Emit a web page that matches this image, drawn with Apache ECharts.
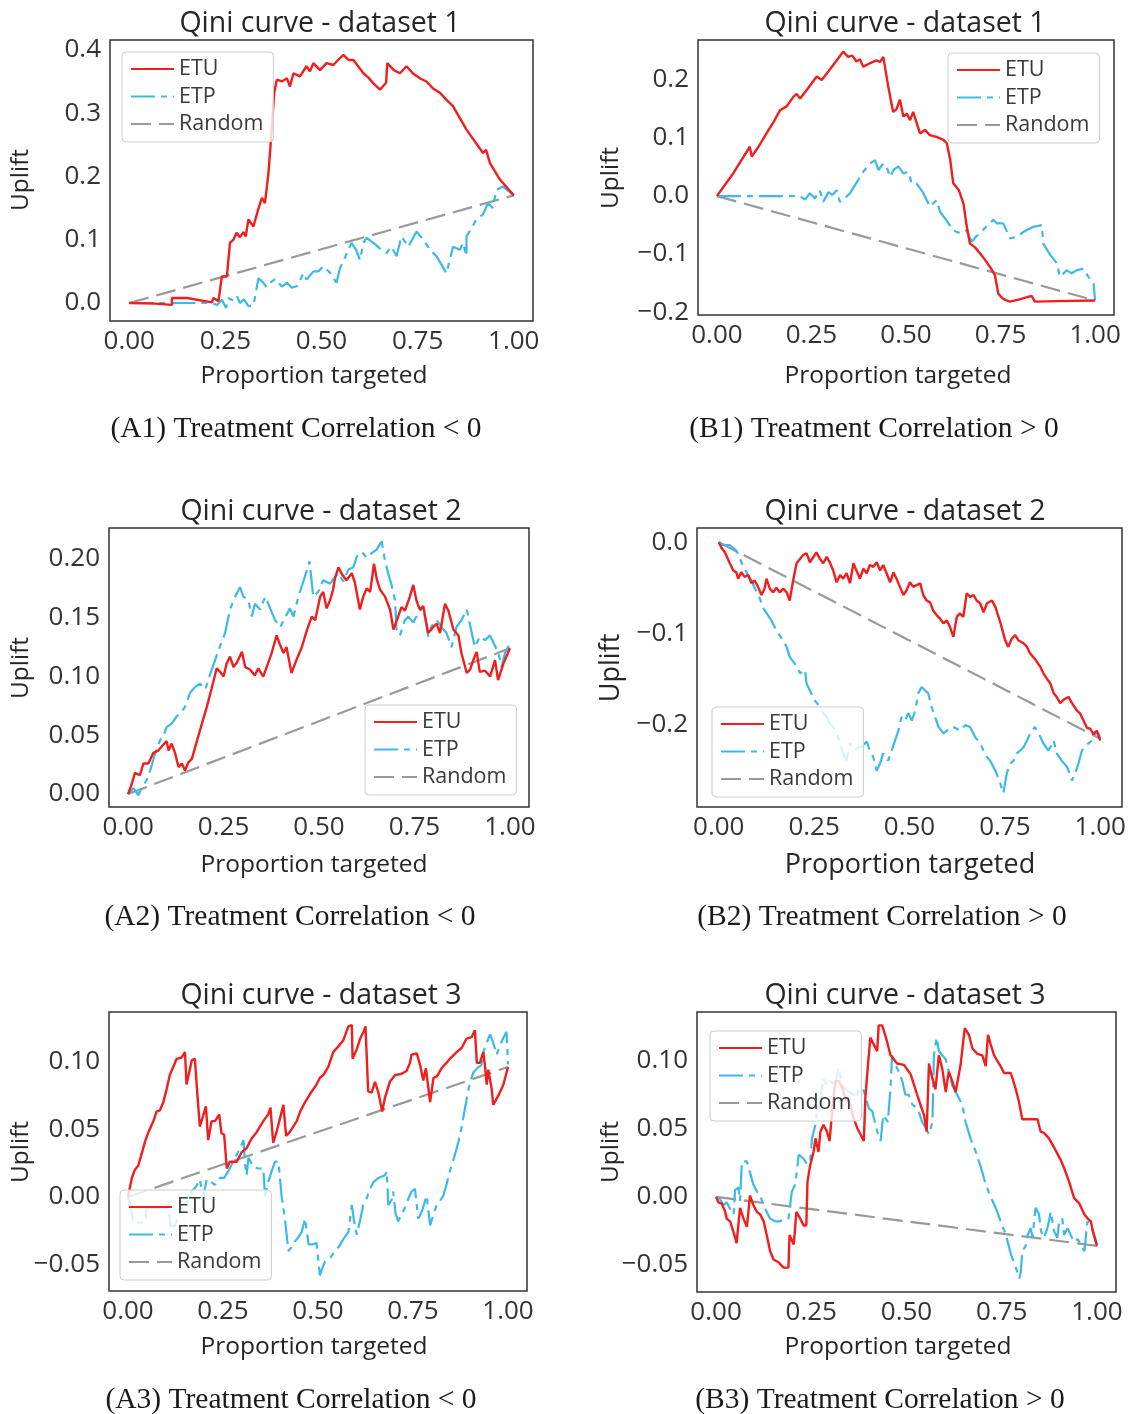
<!DOCTYPE html>
<html>
<head>
<meta charset="utf-8">
<script src="https://cdn.jsdelivr.net/npm/echarts@6/dist/echarts.min.js"></script>
<style>
html,body{margin:0;padding:0;background:#fff;}
#chart{width:1131px;height:1414px;}
</style>
</head>
<body>
<div id="chart"></div>
<script>
// ---------------- data ----------------
const seriesNames = ['ETU', 'ETP', 'Random'];
const xTicks = [0, 0.25, 0.5, 0.75, 1.0];
const yTicksA1 = [0, 0.1, 0.2, 0.3, 0.4];
const yTicksB1 = [-0.2, -0.1, 0, 0.1, 0.2];
const yTicksA2 = [0, 0.05, 0.10, 0.15, 0.20];
const yTicksB2 = [-0.2, -0.1, 0];
const yTicksA3 = [-0.05, 0, 0.05, 0.10];
const yTicksB3 = [-0.05, 0, 0.05, 0.10];
const panelTitles = ['Qini curve - dataset 1', 'Qini curve - dataset 1', 'Qini curve - dataset 2', 'Qini curve - dataset 2', 'Qini curve - dataset 3', 'Qini curve - dataset 3'];
const captions = ['(A1) Treatment Correlation < 0', '(B1) Treatment Correlation > 0', '(A2) Treatment Correlation < 0', '(B2) Treatment Correlation > 0', '(A3) Treatment Correlation < 0', '(B3) Treatment Correlation > 0'];

const a1ETU = [[0,0],[0.068,-0.001],[0.111,-0.003],[0.111,0.008],[0.150,0.008],[0.215,0.001],[0.219,0.008],[0.232,0.003],[0.241,0.042],[0.254,0.042],[0.262,0.095],[0.271,0.100],[0.279,0.111],[0.288,0.104],[0.297,0.112],[0.303,0.105],[0.310,0.132],[0.323,0.121],[0.334,0.145],[0.345,0.166],[0.353,0.158],[0.362,0.205],[0.368,0.253],[0.377,0.332],[0.384,0.353],[0.397,0.350],[0.410,0.355],[0.418,0.342],[0.427,0.363],[0.444,0.358],[0.461,0.374],[0.470,0.366],[0.479,0.379],[0.496,0.368],[0.513,0.379],[0.531,0.376],[0.548,0.387],[0.557,0.392],[0.570,0.384],[0.583,0.384],[0.609,0.363],[0.622,0.356],[0.635,0.347],[0.652,0.337],[0.668,0.348],[0.671,0.379],[0.688,0.368],[0.704,0.363],[0.721,0.374],[0.739,0.362],[0.756,0.355],[0.773,0.350],[0.790,0.339],[0.808,0.332],[0.825,0.321],[0.842,0.311],[0.877,0.274],[0.920,0.237],[0.928,0.242],[0.938,0.221],[0.964,0.195],[1.0,0.170]];
const a1ETP = [[0,0],[0.215,0],[0.228,-0.003],[0.241,0.005],[0.252,-0.008],[0.258,0.008],[0.270,0.004],[0.280,0.011],[0.288,0],[0.298,0.006],[0.310,-0.005],[0.323,-0.004],[0.336,0.039],[0.349,0.032],[0.357,0.025],[0.366,0.032],[0.380,0.038],[0.397,0.026],[0.410,0.032],[0.423,0.024],[0.437,0.027],[0.453,0.047],[0.461,0.037],[0.479,0.050],[0.492,0.050],[0.505,0.058],[0.522,0.048],[0.539,0.032],[0.548,0.055],[0.570,0.084],[0.578,0.095],[0.590,0.084],[0.600,0.068],[0.609,0.095],[0.617,0.103],[0.635,0.095],[0.656,0.084],[0.669,0.079],[0.682,0.089],[0.695,0.074],[0.708,0.105],[0.726,0.089],[0.747,0.113],[0.765,0.100],[0.782,0.084],[0.799,0.074],[0.825,0.047],[0.842,0.089],[0.860,0.084],[0.868,0.095],[0.877,0.074],[0.877,0.105],[0.903,0.132],[0.920,0.140],[0.933,0.158],[0.945,0.150],[0.955,0.179],[0.972,0.184],[1.0,0.170]];
const a1Random = [[0,0],[1,0.170]];

const b1ETU = [[0,0],[0.043,0.039],[0.087,0.085],[0.092,0.068],[0.110,0.085],[0.131,0.108],[0.150,0.128],[0.167,0.148],[0.185,0.155],[0.202,0.171],[0.211,0.176],[0.220,0.168],[0.240,0.185],[0.264,0.206],[0.277,0.200],[0.290,0.211],[0.317,0.234],[0.334,0.249],[0.347,0.240],[0.358,0.242],[0.369,0.232],[0.378,0.236],[0.387,0.223],[0.405,0.229],[0.422,0.234],[0.431,0.231],[0.440,0.240],[0.444,0.237],[0.453,0.189],[0.466,0.145],[0.475,0.150],[0.484,0.166],[0.493,0.137],[0.502,0.142],[0.511,0.131],[0.519,0.145],[0.537,0.108],[0.550,0.114],[0.563,0.105],[0.581,0.102],[0.599,0.097],[0.608,0.091],[0.617,0.062],[0.625,0.022],[0.640,0.010],[0.652,-0.013],[0.660,-0.050],[0.669,-0.082],[0.682,-0.088],[0.696,-0.099],[0.709,-0.110],[0.722,-0.122],[0.735,-0.136],[0.744,-0.168],[0.753,-0.175],[0.762,-0.179],[0.775,-0.182],[0.800,-0.178],[0.832,-0.172],[0.841,-0.182],[0.900,-0.181],[1.0,-0.180]];
const b1ETP = [[0,0],[0.220,0],[0.233,-0.006],[0.246,0.005],[0.259,-0.004],[0.272,0.010],[0.281,-0.010],[0.295,0.007],[0.305,0.002],[0.317,0.010],[0.325,-0.010],[0.338,-0.004],[0.352,0.005],[0.370,0.024],[0.387,0.042],[0.405,0.056],[0.418,0.062],[0.427,0.045],[0.440,0.056],[0.449,0.050],[0.458,0.033],[0.467,0.045],[0.480,0.051],[0.493,0.039],[0.506,0.042],[0.515,0.022],[0.528,0.022],[0.546,0.005],[0.563,-0.018],[0.581,-0.007],[0.590,-0.027],[0.607,-0.042],[0.625,-0.059],[0.643,-0.064],[0.660,-0.059],[0.674,-0.079],[0.685,-0.070],[0.696,-0.064],[0.713,-0.052],[0.731,-0.041],[0.740,-0.047],[0.757,-0.047],[0.775,-0.073],[0.793,-0.070],[0.810,-0.062],[0.837,-0.053],[0.859,-0.050],[0.863,-0.082],[0.880,-0.100],[0.899,-0.116],[0.907,-0.139],[0.925,-0.128],[0.938,-0.133],[0.951,-0.128],[0.969,-0.125],[0.982,-0.139],[0.996,-0.151],[1.0,-0.180]];
const b1Random = [[0,0],[1,-0.180]];

const a2ETU = [[0,0],[0.010,0.009],[0.018,0.018],[0.031,0.016],[0.040,0.026],[0.053,0.026],[0.066,0.035],[0.079,0.037],[0.092,0.042],[0.101,0.045],[0.106,0.037],[0.114,0.043],[0.123,0.035],[0.132,0.023],[0.141,0.026],[0.149,0.020],[0.158,0.027],[0.167,0.030],[0.188,0.054],[0.206,0.074],[0.219,0.090],[0.232,0.107],[0.241,0.104],[0.250,0.100],[0.258,0.111],[0.267,0.117],[0.276,0.108],[0.285,0.112],[0.298,0.121],[0.307,0.108],[0.319,0.106],[0.332,0.101],[0.341,0.107],[0.354,0.100],[0.365,0.110],[0.376,0.120],[0.389,0.135],[0.398,0.127],[0.407,0.120],[0.415,0.125],[0.428,0.103],[0.442,0.115],[0.455,0.125],[0.468,0.139],[0.481,0.151],[0.490,0.148],[0.503,0.168],[0.511,0.172],[0.520,0.158],[0.529,0.165],[0.537,0.174],[0.542,0.184],[0.551,0.193],[0.560,0.187],[0.572,0.182],[0.586,0.188],[0.594,0.180],[0.607,0.157],[0.616,0.168],[0.625,0.175],[0.634,0.172],[0.644,0.196],[0.652,0.182],[0.660,0.174],[0.673,0.168],[0.686,0.157],[0.695,0.140],[0.704,0.148],[0.716,0.159],[0.725,0.156],[0.738,0.168],[0.747,0.178],[0.755,0.165],[0.764,0.157],[0.773,0.160],[0.786,0.137],[0.799,0.142],[0.808,0.145],[0.817,0.137],[0.830,0.162],[0.839,0.156],[0.852,0.140],[0.865,0.135],[0.873,0.120],[0.887,0.103],[0.896,0.106],[0.904,0.114],[0.913,0.121],[0.921,0.104],[0.935,0.105],[0.948,0.100],[0.961,0.114],[0.969,0.097],[0.983,0.111],[1.0,0.124]];
const a2ETP = [[0,0],[0.014,0.005],[0.027,-0.001],[0.036,0.006],[0.049,0.012],[0.058,0.020],[0.071,0.035],[0.084,0.046],[0.092,0.049],[0.101,0.057],[0.114,0.060],[0.127,0.066],[0.136,0.069],[0.149,0.074],[0.162,0.086],[0.175,0.091],[0.188,0.094],[0.202,0.089],[0.215,0.102],[0.228,0.114],[0.241,0.126],[0.254,0.137],[0.267,0.157],[0.276,0.165],[0.293,0.176],[0.302,0.168],[0.315,0.165],[0.324,0.151],[0.332,0.162],[0.346,0.157],[0.359,0.168],[0.372,0.158],[0.385,0.148],[0.398,0.142],[0.411,0.150],[0.424,0.158],[0.433,0.151],[0.446,0.168],[0.463,0.185],[0.475,0.198],[0.485,0.168],[0.498,0.172],[0.511,0.182],[0.529,0.179],[0.538,0.183],[0.551,0.188],[0.564,0.181],[0.577,0.191],[0.590,0.193],[0.599,0.202],[0.612,0.206],[0.625,0.201],[0.638,0.205],[0.651,0.208],[0.664,0.215],[0.672,0.200],[0.681,0.188],[0.690,0.178],[0.699,0.165],[0.703,0.140],[0.712,0.135],[0.725,0.148],[0.734,0.151],[0.747,0.146],[0.760,0.154],[0.773,0.159],[0.786,0.134],[0.795,0.143],[0.808,0.148],[0.821,0.142],[0.834,0.137],[0.847,0.125],[0.860,0.142],[0.873,0.148],[0.887,0.157],[0.895,0.145],[0.908,0.125],[0.921,0.134],[0.935,0.131],[0.948,0.135],[0.961,0.126],[0.969,0.121],[0.978,0.108],[0.987,0.120],[1.0,0.128]];
const a2Random = [[0,0],[1,0.124]];

const b2ETU = [[0,0],[0.007,-0.006],[0.016,-0.011],[0.029,-0.023],[0.038,-0.031],[0.046,-0.033],[0.051,-0.040],[0.059,-0.033],[0.068,-0.038],[0.077,-0.036],[0.086,-0.045],[0.094,-0.042],[0.103,-0.049],[0.112,-0.058],[0.120,-0.051],[0.125,-0.040],[0.134,-0.051],[0.143,-0.055],[0.151,-0.050],[0.160,-0.055],[0.169,-0.051],[0.178,-0.055],[0.186,-0.064],[0.195,-0.042],[0.204,-0.023],[0.212,-0.019],[0.221,-0.014],[0.230,-0.012],[0.239,-0.022],[0.247,-0.017],[0.256,-0.011],[0.265,-0.018],[0.274,-0.023],[0.283,-0.016],[0.291,-0.022],[0.300,-0.031],[0.309,-0.044],[0.318,-0.036],[0.326,-0.040],[0.335,-0.034],[0.344,-0.045],[0.353,-0.023],[0.361,-0.031],[0.370,-0.040],[0.379,-0.029],[0.388,-0.034],[0.396,-0.025],[0.405,-0.027],[0.414,-0.022],[0.423,-0.031],[0.431,-0.025],[0.440,-0.034],[0.449,-0.044],[0.458,-0.033],[0.466,-0.040],[0.475,-0.049],[0.484,-0.058],[0.492,-0.053],[0.501,-0.044],[0.510,-0.049],[0.528,-0.045],[0.536,-0.058],[0.545,-0.064],[0.554,-0.066],[0.562,-0.075],[0.571,-0.080],[0.580,-0.084],[0.589,-0.089],[0.598,-0.086],[0.606,-0.093],[0.615,-0.104],[0.624,-0.082],[0.632,-0.078],[0.641,-0.082],[0.650,-0.056],[0.659,-0.060],[0.668,-0.058],[0.676,-0.064],[0.685,-0.067],[0.694,-0.077],[0.703,-0.067],[0.716,-0.064],[0.725,-0.071],[0.738,-0.088],[0.751,-0.108],[0.759,-0.115],[0.768,-0.106],[0.777,-0.102],[0.786,-0.108],[0.799,-0.111],[0.808,-0.115],[0.816,-0.122],[0.830,-0.129],[0.843,-0.137],[0.851,-0.144],[0.860,-0.150],[0.869,-0.155],[0.878,-0.166],[0.886,-0.170],[0.895,-0.177],[0.904,-0.173],[0.917,-0.170],[0.926,-0.177],[0.939,-0.185],[0.947,-0.188],[0.956,-0.196],[0.965,-0.204],[0.974,-0.205],[0.982,-0.211],[0.991,-0.207],[1.0,-0.218]];
const b2ETP = [[0,0],[0.011,-0.003],[0.029,-0.003],[0.046,-0.009],[0.055,-0.017],[0.064,-0.027],[0.077,-0.036],[0.086,-0.042],[0.094,-0.050],[0.108,-0.062],[0.116,-0.072],[0.129,-0.080],[0.138,-0.086],[0.151,-0.097],[0.164,-0.105],[0.178,-0.115],[0.186,-0.126],[0.204,-0.136],[0.213,-0.144],[0.226,-0.140],[0.230,-0.155],[0.239,-0.163],[0.252,-0.174],[0.265,-0.181],[0.274,-0.188],[0.283,-0.192],[0.291,-0.199],[0.300,-0.203],[0.313,-0.214],[0.326,-0.232],[0.335,-0.240],[0.344,-0.221],[0.357,-0.229],[0.366,-0.225],[0.374,-0.225],[0.388,-0.219],[0.396,-0.229],[0.405,-0.236],[0.414,-0.251],[0.423,-0.243],[0.431,-0.232],[0.444,-0.240],[0.453,-0.229],[0.462,-0.218],[0.471,-0.207],[0.479,-0.192],[0.488,-0.196],[0.497,-0.188],[0.506,-0.196],[0.515,-0.185],[0.523,-0.166],[0.532,-0.159],[0.541,-0.163],[0.549,-0.166],[0.558,-0.181],[0.567,-0.192],[0.576,-0.203],[0.589,-0.210],[0.598,-0.207],[0.615,-0.203],[0.633,-0.207],[0.646,-0.201],[0.659,-0.203],[0.672,-0.214],[0.685,-0.221],[0.694,-0.229],[0.703,-0.236],[0.711,-0.240],[0.725,-0.251],[0.738,-0.265],[0.746,-0.276],[0.755,-0.254],[0.764,-0.243],[0.773,-0.240],[0.781,-0.232],[0.790,-0.229],[0.799,-0.225],[0.808,-0.218],[0.816,-0.210],[0.829,-0.203],[0.843,-0.214],[0.851,-0.221],[0.864,-0.229],[0.878,-0.218],[0.886,-0.232],[0.899,-0.240],[0.913,-0.247],[0.926,-0.262],[0.934,-0.254],[0.943,-0.243],[0.952,-0.229],[0.961,-0.225],[0.969,-0.221],[0.978,-0.218],[0.987,-0.210],[0.996,-0.210],[1.0,-0.216]];
const b2Random = [[0,0],[1,-0.216]];

const a3ETU = [[0,0],[0.010,0.014],[0.018,0.020],[0.027,0.023],[0.036,0.032],[0.045,0.041],[0.054,0.048],[0.067,0.056],[0.075,0.063],[0.084,0.064],[0.093,0.070],[0.102,0.080],[0.110,0.090],[0.119,0.096],[0.128,0.102],[0.141,0.103],[0.150,0.107],[0.154,0.083],[0.161,0.092],[0.168,0.101],[0.176,0.102],[0.182,0.078],[0.189,0.052],[0.198,0.060],[0.205,0.067],[0.211,0.042],[0.220,0.056],[0.229,0.056],[0.240,0.061],[0.246,0.047],[0.253,0.046],[0.260,0.021],[0.268,0.026],[0.286,0.026],[0.299,0.033],[0.312,0.036],[0.325,0.043],[0.339,0.048],[0.356,0.056],[0.369,0.061],[0.375,0.066],[0.382,0.040],[0.391,0.048],[0.400,0.058],[0.409,0.068],[0.416,0.045],[0.426,0.048],[0.444,0.056],[0.453,0.063],[0.466,0.070],[0.479,0.076],[0.496,0.083],[0.505,0.088],[0.514,0.090],[0.527,0.096],[0.540,0.107],[0.553,0.111],[0.567,0.116],[0.580,0.126],[0.589,0.127],[0.591,0.102],[0.602,0.109],[0.611,0.117],[0.620,0.122],[0.625,0.126],[0.632,0.078],[0.641,0.077],[0.650,0.085],[0.659,0.077],[0.669,0.063],[0.676,0.073],[0.689,0.085],[0.703,0.090],[0.720,0.091],[0.733,0.093],[0.742,0.099],[0.746,0.105],[0.760,0.106],[0.769,0.097],[0.777,0.086],[0.784,0.095],[0.795,0.070],[0.804,0.088],[0.813,0.089],[0.825,0.095],[0.838,0.099],[0.847,0.102],[0.865,0.107],[0.878,0.110],[0.891,0.117],[0.904,0.118],[0.913,0.123],[0.918,0.099],[0.926,0.099],[0.935,0.107],[0.939,0.098],[0.944,0.083],[0.948,0.094],[0.957,0.080],[0.961,0.068],[0.975,0.075],[0.988,0.083],[1.0,0.096]];
const a3ETP = [[0,0],[0.010,-0.011],[0.014,-0.019],[0.045,-0.019],[0.049,-0.008],[0.080,-0.008],[0.106,-0.006],[0.112,-0.022],[0.124,-0.021],[0.135,-0.012],[0.146,-0.008],[0.158,-0.002],[0.168,0.004],[0.180,0.008],[0.189,0.013],[0.198,-0.001],[0.207,0.013],[0.218,0.011],[0.229,0.009],[0.242,0.014],[0.253,0.014],[0.264,0.019],[0.275,0.025],[0.286,0.031],[0.295,0.036],[0.304,0.042],[0.308,0.024],[0.312,0.016],[0.317,0.029],[0.330,0.022],[0.343,0.021],[0.356,0.021],[0.361,-0.001],[0.369,0.011],[0.378,0.019],[0.387,0.026],[0.396,0.026],[0.404,0.001],[0.413,-0.016],[0.422,-0.040],[0.431,-0.037],[0.439,-0.033],[0.448,-0.030],[0.457,-0.026],[0.466,-0.016],[0.475,-0.035],[0.487,-0.035],[0.496,-0.034],[0.505,-0.058],[0.511,-0.053],[0.518,-0.048],[0.532,-0.045],[0.545,-0.040],[0.557,-0.036],[0.567,-0.031],[0.580,-0.026],[0.589,-0.006],[0.595,-0.018],[0.602,-0.028],[0.611,-0.017],[0.619,-0.006],[0.628,-0.001],[0.637,0.006],[0.646,0.011],[0.659,0.014],[0.676,0.016],[0.681,0.019],[0.685,-0.006],[0.694,-0.002],[0.698,0.004],[0.704,-0.012],[0.711,-0.018],[0.720,-0.013],[0.729,-0.008],[0.738,-0.001],[0.746,0.004],[0.755,0.006],[0.764,-0.016],[0.773,-0.011],[0.786,0.001],[0.795,-0.021],[0.804,-0.013],[0.812,-0.006],[0.821,-0.003],[0.830,0.001],[0.839,0.010],[0.847,0.019],[0.856,0.027],[0.865,0.036],[0.874,0.046],[0.882,0.058],[0.891,0.072],[0.900,0.085],[0.909,0.092],[0.922,0.096],[0.930,0.097],[0.935,0.107],[0.944,0.114],[0.953,0.120],[0.961,0.114],[0.970,0.105],[0.979,0.112],[0.987,0.117],[0.996,0.122],[1.0,0.098]];
const a3Random = [[0,0],[1,0.096]];

const b3ETU = [[0,0],[0.006,-0.004],[0.015,-0.005],[0.024,-0.011],[0.028,-0.016],[0.037,-0.018],[0.046,-0.026],[0.054,-0.034],[0.063,-0.008],[0.072,-0.016],[0.081,-0.022],[0.085,-0.011],[0.089,0.001],[0.098,-0.006],[0.107,-0.011],[0.116,-0.013],[0.125,-0.018],[0.133,-0.028],[0.142,-0.040],[0.151,-0.046],[0.164,-0.048],[0.177,-0.052],[0.190,-0.052],[0.193,-0.028],[0.204,-0.035],[0.211,-0.011],[0.221,-0.016],[0.230,-0.021],[0.237,-0.021],[0.240,0.011],[0.247,0.023],[0.256,0.033],[0.261,0.043],[0.269,0.033],[0.274,0.048],[0.282,0.053],[0.291,0.048],[0.298,0.041],[0.304,0.060],[0.313,0.085],[0.322,0.085],[0.331,0.080],[0.339,0.073],[0.352,0.068],[0.361,0.058],[0.370,0.051],[0.379,0.046],[0.388,0.041],[0.392,0.073],[0.401,0.104],[0.405,0.117],[0.414,0.112],[0.423,0.107],[0.427,0.126],[0.436,0.126],[0.444,0.119],[0.449,0.114],[0.458,0.104],[0.467,0.101],[0.475,0.098],[0.493,0.097],[0.511,0.090],[0.528,0.075],[0.546,0.060],[0.553,0.048],[0.559,0.098],[0.568,0.087],[0.576,0.079],[0.585,0.104],[0.594,0.094],[0.603,0.077],[0.611,0.092],[0.620,0.085],[0.629,0.077],[0.642,0.097],[0.653,0.124],[0.664,0.119],[0.673,0.109],[0.686,0.105],[0.699,0.104],[0.708,0.096],[0.714,0.119],[0.721,0.112],[0.730,0.104],[0.738,0.100],[0.747,0.096],[0.756,0.091],[0.774,0.091],[0.787,0.079],[0.795,0.070],[0.804,0.057],[0.844,0.057],[0.852,0.048],[0.861,0.047],[0.874,0.043],[0.888,0.036],[0.905,0.027],[0.914,0.021],[0.927,0.011],[0.940,-0.001],[0.954,-0.005],[0.967,-0.013],[0.976,-0.016],[0.984,-0.018],[0.989,-0.025],[1.0,-0.036]];
const b3ETP = [[0,0],[0.011,-0.002],[0.019,-0.006],[0.028,-0.004],[0.037,-0.009],[0.046,-0.013],[0.050,0.005],[0.059,0.007],[0.063,-0.003],[0.068,0.026],[0.081,0.026],[0.089,0.018],[0.098,0.009],[0.107,0.004],[0.116,0.001],[0.125,-0.007],[0.133,-0.011],[0.142,-0.016],[0.155,-0.018],[0.168,-0.018],[0.182,-0.016],[0.190,-0.016],[0.199,0.004],[0.208,0.009],[0.217,0.031],[0.230,0.028],[0.239,0.024],[0.247,0.026],[0.252,0.043],[0.261,0.053],[0.265,0.063],[0.274,0.068],[0.281,0.087],[0.291,0.082],[0.300,0.085],[0.313,0.082],[0.322,0.095],[0.331,0.082],[0.344,0.078],[0.361,0.075],[0.370,0.075],[0.379,0.080],[0.388,0.078],[0.401,0.065],[0.410,0.063],[0.423,0.048],[0.432,0.041],[0.439,0.060],[0.451,0.055],[0.458,0.080],[0.462,0.104],[0.471,0.097],[0.480,0.092],[0.489,0.085],[0.497,0.075],[0.506,0.075],[0.515,0.068],[0.524,0.066],[0.532,0.063],[0.541,0.055],[0.550,0.051],[0.559,0.046],[0.568,0.055],[0.572,0.104],[0.579,0.117],[0.585,0.107],[0.594,0.104],[0.603,0.101],[0.611,0.092],[0.620,0.082],[0.633,0.075],[0.646,0.068],[0.655,0.055],[0.668,0.043],[0.682,0.033],[0.695,0.022],[0.708,0.009],[0.721,0.000],[0.734,-0.008],[0.747,-0.018],[0.761,-0.028],[0.774,-0.042],[0.787,-0.052],[0.796,-0.060],[0.800,-0.055],[0.804,-0.040],[0.813,-0.036],[0.818,-0.028],[0.826,-0.023],[0.831,-0.030],[0.835,-0.018],[0.839,-0.008],[0.848,-0.013],[0.853,-0.025],[0.861,-0.030],[0.870,-0.023],[0.879,-0.011],[0.887,-0.025],[0.896,-0.030],[0.901,-0.018],[0.909,-0.016],[0.914,-0.028],[0.923,-0.023],[0.931,-0.028],[0.940,-0.033],[0.949,-0.031],[0.958,-0.035],[0.967,-0.040],[0.975,-0.018],[0.984,-0.020],[0.993,-0.028],[1.0,-0.035]];
const b3Random = [[0,0],[1,-0.036]];

// ---------------- layout / style ----------------
const COL_ETU = '#f21d1d', COL_ETP = '#3bb9ea', COL_RND = '#999999';
const SANS = '"Open Sans", "Noto Sans", sans-serif';
const SERIF = '"Liberation Serif", "DejaVu Serif", serif';
const TXT = '#333333';

const panels = [
  {grid:{left:110, top:40, width:423, height:281}, xr:[-0.05,1.05], yr:[-0.0284,0.4155], yTicks:yTicksA1, dec:1,
   data:[a1ETU,a1ETP,a1Random], legend:[122,52], title:[320,24], xname:[314,376,24.5], yname:[21,180,24.5], cap:[296,429]},
  {grid:{left:698, top:40, width:416, height:275}, xr:[-0.05,1.05], yr:[-0.205,0.269], yTicks:yTicksB1, dec:1,
   data:[b1ETU,b1ETP,b1Random], legend:[948,53], title:[905,24], xname:[898,376,24.5], yname:[611,178,24.5], cap:[874,429]},
  {grid:{left:109, top:528, width:420, height:279}, xr:[-0.05,1.05], yr:[-0.011,0.2264], yTicks:yTicksA2, dec:2,
   data:[a2ETU,a2ETP,a2Random], legend:[365,705], title:[321,512], xname:[314,865,24.5], yname:[21,668,24.5], cap:[290,917]},
  {grid:{left:697, top:528, width:425, height:279}, xr:[-0.057,1.057], yr:[-0.291,0.0157], yTicks:yTicksB2, dec:1,
   data:[b2ETU,b2ETP,b2Random], legend:[712,707], title:[905,512], xname:[910,865,27], yname:[611,668,27], cap:[882,917]},
  {grid:{left:109, top:1012, width:418, height:279}, xr:[-0.05,1.05], yr:[-0.0695,0.1366], yTicks:yTicksA3, dec:2,
   data:[a3ETU,a3ETP,a3Random], legend:[120,1190], title:[321,996], xname:[314,1347,24.5], yname:[21,1152,24.5], cap:[291,1400]},
  {grid:{left:697, top:1012, width:419, height:280}, xr:[-0.05,1.05], yr:[-0.0699,0.1358], yTicks:yTicksB3, dec:2,
   data:[b3ETU,b3ETP,b3Random], legend:[710,1031], title:[905,996], xname:[898,1347,24.5], yname:[611,1152,24.5], cap:[880,1400]}
];

function fmt(dec) {
  return function (v) {
    let s = (Math.abs(v) < 1e-9 ? 0 : v).toFixed(dec);
    return s.replace('-', '\u2212');
  };
}

const lineStyles = [
  {color: COL_ETU, width: 2.4, type: 'solid'},
  {color: COL_ETP, width: 2.2, type: [24, 6, 6, 6]},
  {color: COL_RND, width: 2.2, type: [20, 8]}
];

const option = {
  backgroundColor: '#ffffff',
  animation: false,
  grid: [], xAxis: [], yAxis: [], series: [], legend: [], graphic: []
};

panels.forEach(function (p, i) {
  option.grid.push(Object.assign({show: true, borderColor: '#333333', borderWidth: 1.5, containLabel: false, outerBoundsMode: 'none', backgroundColor: '#ffffff'}, p.grid));
  option.xAxis.push({
    type: 'value', gridIndex: i, min: p.xr[0], max: p.xr[1],
    axisLine: {show: false}, axisTick: {show: false}, splitLine: {show: false},
    axisLabel: {customValues: xTicks, formatter: fmt(2), color: TXT, fontSize: 26, fontFamily: SANS, margin: 8}
  });
  option.yAxis.push({
    type: 'value', gridIndex: i, min: p.yr[0], max: p.yr[1],
    axisLine: {show: false}, axisTick: {show: false}, splitLine: {show: false},
    axisLabel: {customValues: p.yTicks, formatter: fmt(p.dec), color: TXT, fontSize: 26, fontFamily: SANS, margin: 9}
  });
  seriesNames.forEach(function (nm, k) {
    option.series.push({
      name: nm, type: 'line', xAxisIndex: i, yAxisIndex: i,
      data: p.data[k], symbol: 'none', showSymbol: false, smooth: false,
      lineStyle: lineStyles[k], itemStyle: {color: lineStyles[k].color},
      z: k === 0 ? 4 : (k === 1 ? 3 : 2)
    });
  });
  option.legend.push({
    data: seriesNames, orient: 'vertical', left: p.legend[0], top: p.legend[1],
    itemWidth: 43, itemHeight: 14, itemGap: 5.5, padding: [6, 10, 7, 8],
    itemStyle: {opacity: 0},
    backgroundColor: 'rgba(255,255,255,0.8)', borderColor: '#cccccc', borderWidth: 1, borderRadius: 4,
    textStyle: {fontSize: 21.5, fontFamily: SANS, color: '#3a3a3a'}, selectedMode: false, z: 10
  });
  option.graphic.push({type: 'text', x: p.title[0], y: p.title[1], z: 20,
    style: {text: panelTitles[i], font: '28.5px ' + SANS, fill: '#262626', align: 'center', verticalAlign: 'middle'}});
  option.graphic.push({type: 'text', x: p.xname[0], y: p.xname[1], z: 20,
    style: {text: 'Proportion targeted', font: p.xname[2] + 'px ' + SANS, fill: '#262626', align: 'center', verticalAlign: 'middle'}});
  option.graphic.push({type: 'text', x: p.yname[0], y: p.yname[1], rotation: Math.PI / 2, z: 20,
    style: {text: 'Uplift', font: p.yname[2] + 'px ' + SANS, fill: '#262626', align: 'center', verticalAlign: 'middle'}});
  option.graphic.push({type: 'text', x: p.cap[0], y: p.cap[1], z: 20,
    style: {text: captions[i], font: '29.5px ' + SERIF, fill: '#1a1a1a', align: 'center', verticalAlign: 'middle'}});
});

const chart = echarts.init(document.getElementById('chart'), null, {renderer: 'canvas'});
chart.setOption(option);
</script>
</body>
</html>
